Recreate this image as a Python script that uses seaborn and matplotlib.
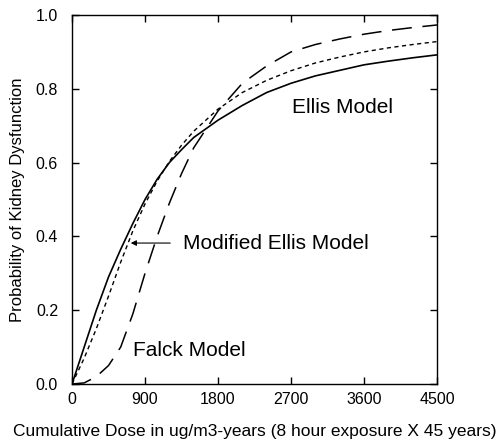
import pandas as pd
import matplotlib.pyplot as plt
import seaborn as sns
import numpy as np

# Values
dose = [0, 150, 300, 450, 600, 750, 900, 1050, 1200, 1350, 1500,
        1800, 2100, 2400, 2700, 3000, 3300, 3600, 3900, 4200, 4500]
ellis = [0.0, 0.10, 0.20, 0.29, 0.365, 0.435, 0.50, 0.555, 0.60, 0.635, 0.668,
         0.715, 0.755, 0.79, 0.815, 0.835, 0.85, 0.865, 0.875, 0.884, 0.892]
modified_ellis = [0.0, 0.07, 0.15, 0.238, 0.33, 0.415, 0.488, 0.55, 0.603, 0.647, 0.685,
                  0.745, 0.79, 0.823, 0.849, 0.87, 0.886, 0.90, 0.911, 0.92, 0.928]
falck = [0.0, 0.003, 0.02, 0.05, 0.10, 0.19, 0.30, 0.40, 0.49, 0.57, 0.64,
         0.74, 0.815, 0.862, 0.90, 0.92, 0.935, 0.948, 0.958, 0.966, 0.973]

x_ticks = [0, 900, 1800, 2700, 3600, 4500]
y_ticks = [0.0, 0.2, 0.4, 0.6, 0.8, 1.0]

df = pd.DataFrame({'dose': dose, 'Ellis': ellis,
                   'Modified Ellis': modified_ellis, 'Falck': falck})

sns.set_style('ticks')
plt.rcParams['font.family'] = ['Liberation Sans', 'DejaVu Sans']
plt.rcParams['text.color'] = 'black'
plt.rcParams['axes.labelcolor'] = 'black'

fig = plt.figure(figsize=(4.99, 4.44), dpi=100)
ax = fig.add_axes([0.1443, 0.1351, 0.7315, 0.8311])

sns.lineplot(data=df, x='dose', y='Ellis', color='black', lw=1.2, ax=ax)
sns.lineplot(data=df, x='dose', y='Modified Ellis', color='black', lw=1.0,
             linestyle=(0, (3, 2.5)), ax=ax)
sns.lineplot(data=df, x='dose', y='Falck', color='black', lw=1.1,
             linestyle=(0, (13, 7)), ax=ax)

ax.set_xlim(0, 4500)
ax.set_ylim(0, 1.0)
ax.set_xticks(x_ticks)
ax.set_yticks(y_ticks)
ax.set_yticklabels([f'{v:.1f}' for v in y_ticks])
ax.tick_params(direction='in', length=5, width=1, top=True, right=True,
               labelsize=11.5, colors='black')
ax.tick_params(axis='x', pad=6)
ax.tick_params(axis='y', pad=10)
for s in ax.spines.values():
    s.set_linewidth(1.0)
    s.set_color('black')

ax.set_xlabel('Cumulative Dose in ug/m3-years (8 hour exposure X 45 years)',
              fontsize=12.5, labelpad=12)
ax.set_ylabel('Probability of Kidney Dysfunction', fontsize=12, labelpad=8)

# curve labels
ax.text(2712, 0.748, 'Ellis Model', fontsize=15, va='center', ha='left')
ax.text(752, 0.092, 'Falck Model', fontsize=15, va='center', ha='left')
ax.text(1368, 0.382, 'Modified Ellis Model', fontsize=15, va='center', ha='left')
ax.annotate('', xy=(690, 0.382), xytext=(1245, 0.382),
            arrowprops=dict(arrowstyle='-|>', color='black', lw=0.8,
                            mutation_scale=8))

fig.savefig('out.png', dpi=100)
